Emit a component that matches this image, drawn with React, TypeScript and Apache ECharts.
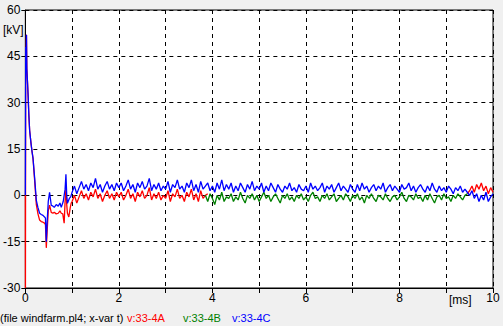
import React, { useEffect, useRef } from "react";
import * as echarts from "echarts";

// Early transient (t in ms, v in kV)
const blueEarly: [number, number][] = [
  [0, 0], [0.008, 48], [0.016, 44], [0.024, 52], [0.032, 41], [0.045, 37], [0.06, 32], [0.075, 26],
  [0.092, 21], [0.12, 17], [0.14, 14.5], [0.164, 12], [0.198, 5.8], [0.235, -1.6], [0.27, -4],
  [0.305, -5.8], [0.34, -6.2], [0.377, -6.5], [0.41, -7], [0.43, -7.4], [0.448, -15], [0.465, -9],
  [0.49, -2], [0.518, 1], [0.554, -3.2], [0.59, -3.5], [0.618, -3.9], [0.66, -3], [0.704, -3.5],
  [0.74, -2.5], [0.768, -3.9], [0.81, -2], [0.85, 2], [0.868, 6.8], [0.885, 0], [0.9, -2.6],
  [0.94, -1], [0.97, -0.5],
];
const redEarly: [number, number][] = [
  [0, 0], [0.002, -30], [0.008, 48], [0.016, 44], [0.024, 52], [0.032, 41], [0.045, 37], [0.06, 32],
  [0.075, 26], [0.092, 21], [0.12, 17], [0.14, 14.5], [0.164, 12], [0.198, 5], [0.235, -3], [0.27, -6],
  [0.305, -8], [0.34, -8.5], [0.377, -8.7], [0.41, -9], [0.43, -9.5], [0.448, -17], [0.465, -12],
  [0.49, -5], [0.518, -3.2], [0.554, -5.5], [0.59, -5.8], [0.618, -5.5], [0.66, -6], [0.704, -5.8],
  [0.74, -5], [0.768, -5.8], [0.8, -6], [0.83, -9], [0.85, -2], [0.868, 2.2], [0.885, -3], [0.9, -5.8],
  [0.93, -7], [0.96, -4], [0.98, -2.5],
];

// Sampled part: step 0.05 ms
const step = 0.05;
const blueStart = 1.0;
const blueValues = [
  1, 3, 0.5, 2.5, 4.5, 2, 3.5, 1.5, 4, 2.5,
  5.5, 2, 3.5, 1, 3, 4.5, 2, 3.5, 1.5, 4,
  2.5, 4, 1.5, 3, 5, 2, 3.5, 1, 4, 2.5,
  4.5, 2, 3, 5.5, 1.5, 3.5, 2, 4, 1.5, 3,
  2, 4.5, 1, 3.5, 2.5, 5, 2, 3, 1, 4,
  2.5, 5, 1.5, 3.5, 1, 4.5, 2, 3, 4, 1.5,
  3, 1, 4, 2, 5, 1.5, 3.5, 2, 4, 1,
  3, 1.5, 4, 2.5, 1, 3.5, 2, 4.5, 1.5, 3,
  2, 4, 1, 3, 1.5, 4, 2.5, 1, 3.5, 2,
  1, 3, 2, 4, 1.5, 2.5, 1, 3.5, 2, 1.5,
  3, 1, 4, 2, 3, 1.5, 2.5, 4, 1, 3,
  2, 3.5, 1, 2.5, 4, 1.5, 3, 2, 1, 3.5,
  2, 1, 3.5, 1.5, 4, 2, 3, 1, 2.5, 3.5,
  1.5, 3, 2, 4, 1, 2.5, 3.5, 1.5, 3, 2,
  1, 3.5, 2, 2.5, 4, 1.5, 3, 1, 2.5, 3.5,
  2, 1, 3, 1.5, 4, 2, 1, 3, 1.5, 2.5,
  1, 3, 2, 0.5, 2.5, 1.5, 3, 1, 2, 1,
  0, 1.5, -1, 0.5, -2, 0, -1.5, 1, -2, -0.5,
  0.5,
];
const redStart = 1.0;
const redValues = [
  -2, 0, -2.5, -0.5, 1.5, -1, 0.5, -1.5, 1, -0.5,
  2, -1, 0.5, -2, 0, 1.5, -1, 0.5, -1.5, 1,
  -0.5, 1, -1.5, 0, 2, -1, 0.5, -2, 1, -0.5,
  1.5, -1, 0, 2.5, -1.5, 0.5, -1, 1, -1.5, 0,
  -1, 1.5, -2, 0.5, -0.5, 2, -1, 0, -2, 1,
  -0.5, 2, -1.5, 0.5, -2, 1.5, -1, 0, 0.5,
];
const redLateStart = 9.45;
const redLateValues = [0.5, 1.5, 3, 1, 3.5, 2, 4, 1.5, 3, 0.5, 2.5, 1];
const greenStart = 3.85;
const greenValues = [
  0,
  -2, 0.5, -1, -3, 0, -1.5, 1, -2, -0.5, -1,
  0.5, -2, -0.5, -1.5, 1, -1, -2.5, 0, -1, 0.5,
  -1.5, 0, -2, -0.5, 1, -1, 0, -2, -0.5, 0.5,
  -1, -2.5, 0, -1, 0.5, -1.5, -0.5, -2, 0, -1,
  0.5, -1.5, -0.5, -2, 0, 1, -1, -0.5, -2, 0,
  -1, 0.5, -1.5, -0.5, 0.5, -2, -1, 0, -1.5, 0.5,
  -0.5, -2, 0, -1, 0.5, -1.5, -0.5, -2.5, 0, -1,
  0.5, -1, -2, 0, -0.5, -1.5, 0.5, -1, -2, -0.5,
  0, -1.5, -0.5, 1, -1, -2, 0, -0.5, -1.5, 0.5,
  -1, -0.5, -2, 0, -1.5, 0.5, -1, -2.5, -0.5, 0,
  -1.5, 0.5, -1, -0.5, -2, 0, -1, 0.5, -0.5, -1.5,
  0, 0.5,
];

const seriesNames = ["v:33-4A", "v:33-4B", "v:33-4C"];
const yTicks = { min: -30, max: 60, interval: 15 };
const xTicks = { min: 0, max: 10, interval: 1 };

function sampled(start: number, values: number[]): [number, number][] {
  return values.map((v, i) => [Math.round((start + i * step) * 1000) / 1000, v]);
}

export default function App() {
  const ref = useRef<HTMLDivElement>(null);
  useEffect(() => {
    document.body.style.margin = "0";
    const chart = echarts.init(ref.current!, null, { renderer: "svg" });
    const font = "Arial, 'Liberation Sans', sans-serif";
    const red = "#ff0000";
    const green = "#008000";
    const blue = "#0000ff";
    const redData = [...redEarly, ...sampled(redStart, redValues)];
    const redLate = sampled(redLateStart, redLateValues);
    const greenData = sampled(greenStart, greenValues);
    const blueData = [...blueEarly, ...sampled(blueStart, blueValues)];
    const lineCommon = {
      type: "line" as const,
      showSymbol: false,
      symbol: "none",
      silent: true,
    };
    const lw = 1.3;
    chart.setOption({
      animation: false,
      backgroundColor: "#f0f0f0",
      grid: {
        left: 24,
        right: 10,
        top: 10,
        bottom: 38,
        show: true,
        backgroundColor: "#ffffff",
        borderColor: "#000000",
        borderWidth: 1,
      },
      xAxis: {
        type: "value",
        min: xTicks.min,
        max: xTicks.max,
        interval: xTicks.interval,
        axisLine: { show: true, onZero: false, lineStyle: { color: "#000", width: 1 } },
        axisTick: { show: true, inside: false, length: 5, lineStyle: { color: "#000" } },
        axisLabel: {
          color: "#000",
          fontSize: 12,
          fontFamily: font,
          margin: 4,
          showMinLabel: true,
          showMaxLabel: true,
          formatter: (v: number) => (Math.round(v) % 2 === 0 ? String(v) : ""),
        },
        splitLine: { show: true, lineStyle: { color: "#000", type: [4, 4], width: 1 } },
      },
      yAxis: {
        type: "value",
        min: yTicks.min,
        max: yTicks.max,
        interval: yTicks.interval,
        axisLine: { show: true, onZero: false, lineStyle: { color: "#000", width: 1 } },
        axisTick: { show: true, inside: false, length: 4, lineStyle: { color: "#000" } },
        axisLabel: {
          color: "#000",
          fontSize: 12,
          fontFamily: font,
          margin: 5,
          showMinLabel: true,
          showMaxLabel: true,
        },
        splitLine: { show: true, lineStyle: { color: "#000", type: [4, 4], width: 1 } },
      },
      series: [
        { ...lineCommon, name: seriesNames[0], data: redData, lineStyle: { color: red, width: lw }, z: 2 },
        { ...lineCommon, name: seriesNames[0] + "-late", data: redLate, lineStyle: { color: red, width: lw }, z: 2 },
        { ...lineCommon, name: seriesNames[1], data: greenData, lineStyle: { color: green, width: lw }, z: 3 },
        { ...lineCommon, name: seriesNames[2], data: blueData, lineStyle: { color: blue, width: lw }, z: 4 },
      ],
      graphic: [
        { type: "text", left: 3, top: 24, style: { text: "[kV]", fontSize: 12, fontFamily: font, fill: "#000" } },
        { type: "text", left: 449, top: 294, style: { text: "[ms]", fontSize: 12, fontFamily: font, fill: "#000" } },
        { type: "text", left: 0, top: 312, style: { text: "(file windfarm.pl4; x-var t)", fontSize: 11, fontFamily: font, fill: "#000" } },
        { type: "text", left: 127, top: 312, style: { text: seriesNames[0], fontSize: 11, fontFamily: font, fill: red } },
        { type: "text", left: 183, top: 312, style: { text: seriesNames[1], fontSize: 11, fontFamily: font, fill: green } },
        { type: "text", left: 232, top: 312, style: { text: seriesNames[2], fontSize: 11, fontFamily: font, fill: blue } },
      ],
    });
    return () => chart.dispose();
  }, []);
  return <div ref={ref} style={{ position: "absolute", left: 0, top: 0, width: 503, height: 326 }} />;
}
